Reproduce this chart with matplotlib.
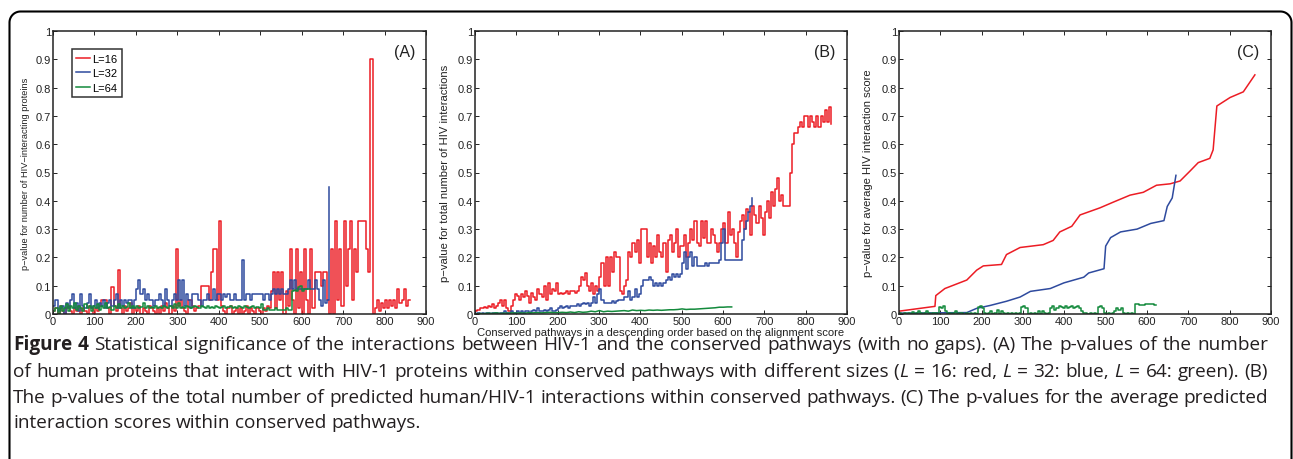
import math
import matplotlib
matplotlib.use("Agg")
import matplotlib.pyplot as plt
from matplotlib.lines import Line2D
from matplotlib.patches import Rectangle
from matplotlib.font_manager import FontProperties

# ---------------- data ----------------
STEP = 5
# Panel A: p-value for number of HIV-interacting proteins
a_red = [0.01,0.02,0.0,0.03,0.01,0.0,0.02,0.03,0.01,0.0,0.02,0.01,0.03,0.0,0.02,0.01,0.0,0.03,0.02,0.0,
         0.02,0.01,0.03,0.05,0.05,0.05,0.02,0.0,0.095,0.03,
         0.01,0.155,0.02,0.0,0.03,0.01,0.02,0.04,0.0,0.02,
         0.01,0.03,0.0,0.02,0.01,0.0,0.03,0.02,0.01,0.0,
         0.02,0.0,0.03,0.01,0.04,0.02,0.0,0.03,0.01,0.23,
         0.03,0.05,0.02,0.01,0.0,0.05,0.05,0.03,0.01,0.02,
         0.03,0.1,0.1,0.1,0.1,0.05,0.15,0.23,0.23,0.05,
         0.33,0.03,0.01,0.0,0.02,0.03,0.0,0.01,0.02,0.0,
         0.02,0.0,0.01,0.03,0.0,0.02,0.01,0.0,0.02,0.01,
         0.0,0.02,0.01,0.03,0.02,0.08,0.15,0.02,0.15,0.05,
         0.15,0.0,0.08,0.03,0.23,0.05,0.0,0.23,0.02,0.15,
         0.0,0.23,0.05,0.0,0.23,0.02,0.15,0.15,0.15,0.1,
         0.15,0.15,0.05,0.0,0.23,0.0,0.33,0.05,0.23,0.03,
         0.33,0.1,0.23,0.33,0.05,0.23,0.15,0.33,0.33,0.33,
         0.33,0.23,0.15,0.9,0.0,0.02,0.05,0.01,0.04,0.02,
         0.05,0.02,0.05,0.03,0.05,0.02,0.09,0.04,0.05,0.09,
         0.03,0.05,0.05]
a_blue = [0.03,0.05,0.01,0.02,0.03,0.0,0.04,0.02,0.05,0.07,
          0.02,0.04,0.01,0.07,0.03,0.02,0.04,0.07,0.02,0.03,
          0.05,0.02,0.04,0.03,0.05,0.02,0.04,0.05,0.03,0.05,
          0.07,0.02,0.05,0.03,0.05,0.04,0.05,0.05,0.02,0.05,
          0.09,0.12,0.07,0.09,0.05,0.07,0.05,0.05,0.03,0.05,
          0.05,0.07,0.05,0.03,0.09,0.05,0.03,0.05,0.07,0.05,
          0.12,0.05,0.12,0.03,0.07,0.05,0.02,0.07,0.07,0.07,
          0.05,0.03,0.05,0.05,0.07,0.05,0.05,0.09,0.05,0.07,
          0.07,0.05,0.07,0.06,0.07,0.05,0.05,0.07,0.05,0.05,
          0.05,0.19,0.05,0.07,0.07,0.05,0.07,0.07,0.07,0.07,
          0.07,0.05,0.07,0.07,0.05,0.07,0.09,0.07,0.09,0.07,
          0.09,0.07,0.07,0.09,0.12,0.09,0.12,0.09,0.09,0.09,
          0.09,0.09,0.09,0.12,0.09,0.09,0.12,0.09,0.05,0.03,
          0.12,0.04,0.05,0.45]
a_green = [0.01,0.02,0.0,0.03,0.01,0.02,0.035,0.01,0.03,0.02,
           0.04,0.015,0.03,0.02,0.01,0.035,0.02,0.03,0.01,0.03,
           0.02,0.035,0.015,0.03,0.02,0.04,0.02,0.025,0.015,0.03,
           0.02,0.035,0.02,0.03,0.02,0.025,0.04,0.02,0.03,0.02,
           0.03,0.02,0.025,0.04,0.02,0.03,0.02,0.025,0.02,0.03,
           0.02,0.025,0.02,0.03,0.025,0.02,0.03,0.02,0.035,0.02,
           0.04,0.02,0.025,0.02,0.03,0.025,0.02,0.025,0.03,0.025,
           0.02,0.03,0.025,0.02,0.03,0.02,0.025,0.02,0.03,0.025,
           0.02,0.025,0.03,0.02,0.025,0.03,0.02,0.025,0.02,0.03,
           0.025,0.02,0.03,0.025,0.02,0.025,0.03,0.02,0.025,0.02,
           0.035,0.015,0.015,0.02,0.015,0.015,0.015,0.02,0.015,0.015,
           0.015,0.015,0.02,0.015,0.015,0.08,0.085,0.08,0.095,0.1,
           0.08,0.09,0.09,0.09,0.09]

# Panel B: p-value for total number of HIV interactions
b_red = [0.01,0.015,0.02,0.02,0.025,0.02,0.03,0.025,0.035,0.02,
         0.03,0.04,0.05,0.03,0.05,0.02,0.01,0.03,0.05,0.07,
         0.065,0.05,0.07,0.06,0.08,0.065,0.04,0.075,0.06,0.05,
         0.09,0.07,0.06,0.1,0.05,0.11,0.07,0.09,0.08,0.11,
         0.07,0.075,0.07,0.075,0.08,0.07,0.08,0.08,0.075,0.08,
         0.1,0.13,0.12,0.145,0.1,0.08,0.11,0.07,0.1,0.08,
         0.13,0.18,0.1,0.2,0.1,0.2,0.15,0.22,0.2,0.2,
         0.08,0.07,0.1,0.12,0.22,0.2,0.25,0.22,0.26,0.18,
         0.3,0.3,0.3,0.2,0.25,0.18,0.24,0.2,0.28,0.22,
         0.2,0.25,0.15,0.26,0.28,0.22,0.25,0.3,0.2,0.24,
         0.24,0.28,0.2,0.25,0.3,0.26,0.33,0.25,0.24,0.33,
         0.27,0.33,0.25,0.25,0.3,0.28,0.25,0.22,0.25,0.3,
         0.32,0.25,0.36,0.28,0.3,0.25,0.2,0.29,0.33,0.35,
         0.3,0.37,0.36,0.28,0.38,0.35,0.32,0.38,0.34,0.28,
         0.36,0.4,0.34,0.43,0.38,0.44,0.48,0.4,0.42,0.38,
         0.38,0.38,0.5,0.6,0.64,0.64,0.66,0.68,0.66,0.7,
         0.7,0.66,0.7,0.68,0.66,0.7,0.66,0.7,0.68,0.72,
         0.68,0.73,0.67]
b_blue = [0.0,0.005,0.0,0.005,0.0,0.005,0.005,0.0,0.005,0.005,
          0.005,0.0,0.005,0.005,0.01,0.005,0.005,0.01,0.005,0.005,
          0.01,0.005,0.01,0.005,0.01,0.01,0.005,0.01,0.015,0.01,
          0.02,0.01,0.01,0.015,0.01,0.015,0.02,0.01,0.01,0.015,
          0.02,0.03,0.02,0.025,0.03,0.02,0.03,0.03,0.03,0.035,
          0.03,0.035,0.04,0.035,0.04,0.03,0.04,0.06,0.04,0.07,
          0.09,0.05,0.04,0.04,0.04,0.04,0.045,0.04,0.045,0.05,
          0.05,0.05,0.06,0.06,0.08,0.05,0.06,0.09,0.06,0.07,
          0.1,0.12,0.12,0.12,0.13,0.12,0.1,0.11,0.1,0.11,
          0.1,0.11,0.12,0.13,0.12,0.14,0.13,0.14,0.13,0.14,
          0.18,0.22,0.16,0.2,0.22,0.17,0.2,0.17,0.17,0.17,
          0.17,0.18,0.17,0.18,0.18,0.18,0.18,0.18,0.19,0.25,
          0.3,0.19,0.19,0.19,0.19,0.19,0.19,0.19,0.19,0.26,
          0.3,0.33,0.36,0.38,0.41]
B_GREEN_STEP = 10
b_green = [0.0,0.002,0.001,0.003,0.002,0.004,0.002,0.003,0.003,0.004,
           0.003,0.004,0.003,0.005,0.004,0.005,0.004,0.005,0.006,0.005,
           0.005,0.006,0.005,0.007,0.005,0.008,0.006,0.007,0.01,0.008,
           0.012,0.008,0.01,0.009,0.01,0.011,0.012,0.01,0.014,0.012,
           0.013,0.012,0.014,0.013,0.014,0.013,0.014,0.015,0.015,0.016,
           0.018,0.016,0.017,0.017,0.018,0.019,0.02,0.021,0.022,0.024,
           0.024,0.025,0.025]

# Panel C: p-value for average HIV interaction score
c_red_x = [0, 87, 89, 111, 164, 188, 204, 248, 260, 293, 349, 373, 389, 418, 438,
           486, 518, 559, 591, 623, 656, 680, 704, 724, 752, 760, 769, 801, 833, 861]
c_red_y = [0.01, 0.027, 0.065, 0.09, 0.12, 0.155, 0.17, 0.175, 0.21, 0.235, 0.245, 0.26,
           0.29, 0.31, 0.35, 0.375, 0.395, 0.42, 0.43, 0.455, 0.46, 0.47, 0.505, 0.535,
           0.55, 0.58, 0.735, 0.765, 0.785, 0.845]
c_blue_x = [0, 164, 188, 220, 260, 293, 318, 366, 399, 447, 459, 496, 500, 512, 536,
            576, 609, 641, 649, 661, 670]
c_blue_y = [0.003, 0.005, 0.02, 0.03, 0.045, 0.06, 0.08, 0.09, 0.11, 0.13, 0.145, 0.16,
            0.24, 0.27, 0.29, 0.3, 0.32, 0.33, 0.38, 0.41, 0.49]
c_green = [0.005,0.0,0.005,0.0,0.005,0.0,0.008,0.0,0.005,0.01,
           0.005,0.0,0.005,0.01,0.005,0.0,0.005,0.005,0.0,0.025,
           0.02,0.03,0.01,0.0,0.005,0.0,0.005,0.01,0.0,0.005,
           0.005,0.0,0.005,0.0,0.005,0.0,0.005,0.0,0.025,0.03,
           0.02,0.005,0.0,0.005,0.01,0.0,0.005,0.015,0.0,0.01,
           0.005,0.0,0.005,0.0,0.005,0.0,0.005,0.0,0.005,0.025,
           0.03,0.02,0.0,0.005,0.0,0.005,0.0,0.01,0.0,0.01,
           0.005,0.0,0.005,0.02,0.03,0.015,0.02,0.03,0.025,0.02,
           0.03,0.02,0.025,0.03,0.02,0.025,0.03,0.02,0.01,0.005,
           0.005,0.0,0.005,0.0,0.005,0.0,0.025,0.03,0.02,0.005,
           0.0,0.005,0.0,0.005,0.01,0.02,0.015,0.02,0.005,0.0,
           0.005,0.0,0.005,0.0,0.035,0.035,0.033,0.033,0.033,0.035,
           0.035,0.035,0.035,0.033,0.033]

legend_labels = ["L=16", "L=32", "L=64"]
panel_tags = ["(A)", "(B)", "(C)"]
ylabels = ["p\u2212value for number of HIV\u2212interacting proteins",
           "p\u2212value for total number of HIV interactions",
           "p\u2212value for average HIV interaction score"]
xlabel_b = "Conserved pathways in a descending order based on the alignment score"
xticks = [0, 100, 200, 300, 400, 500, 600, 700, 800, 900]
yticks = [0, 0.1, 0.2, 0.3, 0.4, 0.5, 0.6, 0.7, 0.8, 0.9, 1]
ytick_labels = ["0", "0.1", "0.2", "0.3", "0.4", "0.5", "0.6", "0.7", "0.8", "0.9", "1"]

caption_lines = [
    [("Figure 4", "bold"), (" Statistical significance of the interactions between HIV-1 and the conserved pathways (with no gaps). (A) The p-values of the number", "normal")],
    [("of human proteins that interact with HIV-1 proteins within conserved pathways with different sizes (", "normal"), ("L", "italic"),
     (" = 16: red, ", "normal"), ("L", "italic"), (" = 32: blue, ", "normal"), ("L", "italic"), (" = 64: green). (B)", "normal")],
    [("The p-values of the total number of predicted human/HIV-1 interactions within conserved pathways. (C) The p-values for the average predicted", "normal")],
    [("interaction scores within conserved pathways.", "normal")],
]

# ---------------- style ----------------
RED = "#ec1c24"
BLUE = "#2e4a9e"
GREEN = "#138a3c"
TXT = "#222222"
W, H = 1293, 460
AX_FONT = "Liberation Sans"
CAP_FONT = "Open Sans"

def xs(vals, step=STEP):
    return list(range(1, 1 + step * len(vals), step))

fig = plt.figure(figsize=(W / 100, H / 100), dpi=100)

# rounded frame (open at the bottom), built in pixel units
def frame_path(x0, x1, y0, r, ybot, n=12):
    px, py = [x0], [ybot]
    px.append(x0); py.append(y0 + r)
    for k in range(n + 1):
        a = math.pi + (math.pi / 2) * k / n
        px.append(x0 + r + r * math.cos(a)); py.append(y0 + r + r * math.sin(a))
    px.append(x1 - r); py.append(y0)
    for k in range(n + 1):
        a = 1.5 * math.pi + (math.pi / 2) * k / n
        px.append(x1 - r + r * math.cos(a)); py.append(y0 + r + r * math.sin(a))
    px.append(x1); py.append(ybot)
    return [x / W for x in px], [1 - y / H for y in py]

fx, fy = frame_path(9.5, 1291.5, 12.5, 11, H + 20)
fig.add_artist(Line2D(fx, fy, transform=fig.transFigure, color="black", lw=1.5, clip_on=False))
# white strip at the very bottom, inside the frame
fig.add_artist(Rectangle((12 / W, 0), (1288 - 12) / W, 12 / H, transform=fig.transFigure,
                         facecolor="white", edgecolor="none", zorder=5))

ax_px = [(53, 426), (475, 847), (899, 1271)]
top_px, bot_px = 32, 315
axes = []
for (l, r) in ax_px:
    ax = fig.add_axes([l / W, 1 - bot_px / H, (r - l) / W, (bot_px - top_px) / H])
    axes.append(ax)

lw = 1.1
axA, axB, axC = axes
axA.plot(xs(a_red), a_red, color=RED, lw=lw, drawstyle="steps-post", label=legend_labels[0])
axA.plot(xs(a_blue), a_blue, color=BLUE, lw=lw, drawstyle="steps-post", label=legend_labels[1])
axA.plot(xs(a_green), a_green, color=GREEN, lw=lw, drawstyle="steps-post", label=legend_labels[2])

axB.plot(xs(b_red), b_red, color=RED, lw=lw, drawstyle="steps-post")
axB.plot(xs(b_blue), b_blue, color=BLUE, lw=lw, drawstyle="steps-post")
axB.plot(xs(b_green, B_GREEN_STEP), b_green, color=GREEN, lw=lw)

axC.plot(c_red_x, c_red_y, color=RED, lw=lw)
axC.plot(c_blue_x, c_blue_y, color=BLUE, lw=lw)
axC.plot(xs(c_green), c_green, color=GREEN, lw=lw, drawstyle="steps-post")

ylab_x = [-0.062, -0.067, -0.07]
ylab_fs = [6.7, 8.1, 8.1]
tag_x = [0.944, 0.94, 0.938]
for i, ax in enumerate(axes):
    ax.set_xlim(0, 900)
    ax.set_ylim(0, 1)
    ax.set_xticks(xticks)
    ax.set_xticklabels([str(t) for t in xticks], fontfamily=AX_FONT, fontsize=8, color=TXT)
    ax.set_yticks(yticks)
    ax.set_yticklabels(ytick_labels, fontfamily=AX_FONT, fontsize=8, color=TXT)
    ax.tick_params(direction="in", length=3, width=0.7, top=True, right=True, pad=1.5, colors=TXT)
    for s in ax.spines.values():
        s.set_linewidth(1.1)
        s.set_color(TXT)
    ax.set_ylabel(ylabels[i], fontfamily=AX_FONT, fontsize=ylab_fs[i], color=TXT)
    ax.yaxis.set_label_coords(ylab_x[i], 0.5)
    ax.text(tag_x[i], 0.926, panel_tags[i], transform=ax.transAxes, ha="center", va="center",
            fontfamily=AX_FONT, fontsize=11.5, color=TXT)

axB.set_xlabel(xlabel_b, fontfamily=AX_FONT, fontsize=8.1, color=TXT, labelpad=0.5)

leg = axA.legend(loc="upper left", bbox_to_anchor=(0.051, 0.936), prop=FontProperties(family=AX_FONT, size=8),
                 frameon=True, fancybox=False, edgecolor="black", handlelength=1.2, handletextpad=0.2,
                 borderpad=0.4, labelspacing=0.42, borderaxespad=0)
leg.get_frame().set_linewidth(1.1)

# ---------------- caption (justified) ----------------
fig.canvas.draw()
renderer = fig.canvas.get_renderer()

def fp(kind, size):
    if kind == "bold":
        return FontProperties(family=CAP_FONT, weight="bold", size=size)
    if kind == "italic":
        return FontProperties(family=CAP_FONT, style="italic", size=size)
    return FontProperties(family=CAP_FONT, size=size)

def width(s, kind, size):
    t = fig.text(0, 0, s, fontproperties=fp(kind, size))
    w = t.get_window_extent(renderer).width
    t.remove()
    return w

def to_words(segments):
    words = [[]]
    for text, kind in segments:
        parts = text.split(" ")
        for i, p in enumerate(parts):
            if i > 0:
                words.append([])
            if p:
                words[-1].append((p, kind))
    return [w for w in words if w]

left_px, right_px = 13, 1268
line_y = [345, 372, 398, 423]

base = 10.0
sp_base = width("n n", "normal", base) - width("nn", "normal", base)
fits = []
for segs in caption_lines[:-1]:
    words = to_words(segs)
    nat = sum(width(p, k, base) for w in words for p, k in w) + sp_base * (len(words) - 1)
    fits.append(base * (right_px - left_px) / nat)
CAP_SIZE = min(fits)
space_w = width("n n", "normal", CAP_SIZE) - width("nn", "normal", CAP_SIZE)

for li, segs in enumerate(caption_lines):
    words = to_words(segs)
    wl = [[width(p, k, CAP_SIZE) for p, k in w] for w in words]
    total = sum(sum(x) for x in wl)
    justify = li < len(caption_lines) - 1
    gap = (right_px - left_px - total) / (len(words) - 1) if justify else space_w
    x = left_px
    for w, ws in zip(words, wl):
        for (p, k), pw in zip(w, ws):
            fig.text(x / W, 1 - line_y[li] / H, p, fontproperties=fp(k, CAP_SIZE), ha="left", va="center",
                     color="#231f20")
            x += pw
        x += gap

fig.savefig("out.png", dpi=100)
